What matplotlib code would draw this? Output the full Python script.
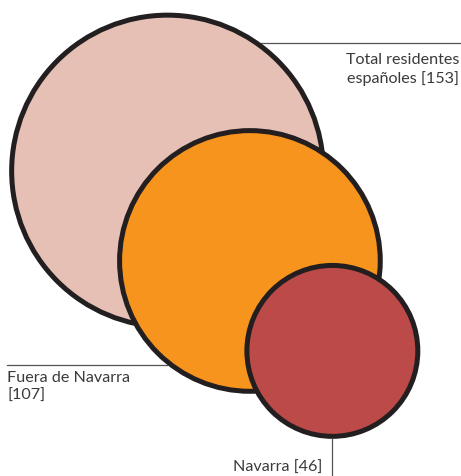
import numpy as np
import matplotlib
matplotlib.use('AGG')
import matplotlib.pyplot as plt
from matplotlib.patches import Circle

labels = ['Total residentes\nespañoles [153]', 'Fuera de Navarra\n[107]', 'Navarra [46]']
values = [153, 107, 46]
colors = ['#e6c0b5', '#f7941d', '#bb4a48']

plt.rcParams['font.family'] = ['Lato', 'DejaVu Sans']

fig = plt.figure(figsize=(4.61, 4.77), dpi=100)
ax = fig.add_axes([0, 0, 1, 1])
ax.set_xlim(0, 461)
ax.set_ylim(477, 0)
ax.axis('off')

# radius proportional to sqrt(value), circles stepped along a diagonal
k = 12.6
x0, y0 = 167.5, 172
step = 122
ang = np.deg2rad(47.5)
centers = []
radii = []
for i, (v, c) in enumerate(zip(values, colors)):
    r = k * np.sqrt(v)
    cx = x0 + i * step * np.cos(ang)
    cy = y0 + i * step * np.sin(ang)
    centers.append((cx, cy))
    radii.append(r)
    ax.add_patch(Circle((cx, cy), r, facecolor=c, edgecolor='#231f20',
                        linewidth=3.6, zorder=2 + i))

line_kw = dict(color='#555555', linewidth=0.9, zorder=1)
text_kw = dict(color='#3a3a3a', fontsize=11.6, linespacing=1.35)
ro = [r + 2.5 for r in radii]

# Total
cx, cy = centers[0]
ly = 44
lx = cx + np.sqrt(ro[0] ** 2 - (cy - ly) ** 2)
ax.plot([lx, 461], [ly, ly], **line_kw)
ax.text(459, 53, labels[0], ha='right', va='top', **text_kw)

# Fuera de Navarra
cx, cy = centers[1]
ly = 366
lx = cx - np.sqrt(ro[1] ** 2 - (ly - cy) ** 2)
ax.plot([7, lx], [ly, ly], **line_kw)
ax.text(7, 371, labels[1], ha='left', va='top', **text_kw)

# Navarra
cx, cy = centers[2]
ax.plot([cx, cx], [cy + ro[2], 477], **line_kw)
ax.text(cx - 10, 468, labels[2], ha='right', va='center', **text_kw)

fig.savefig('out.png', dpi=100)
